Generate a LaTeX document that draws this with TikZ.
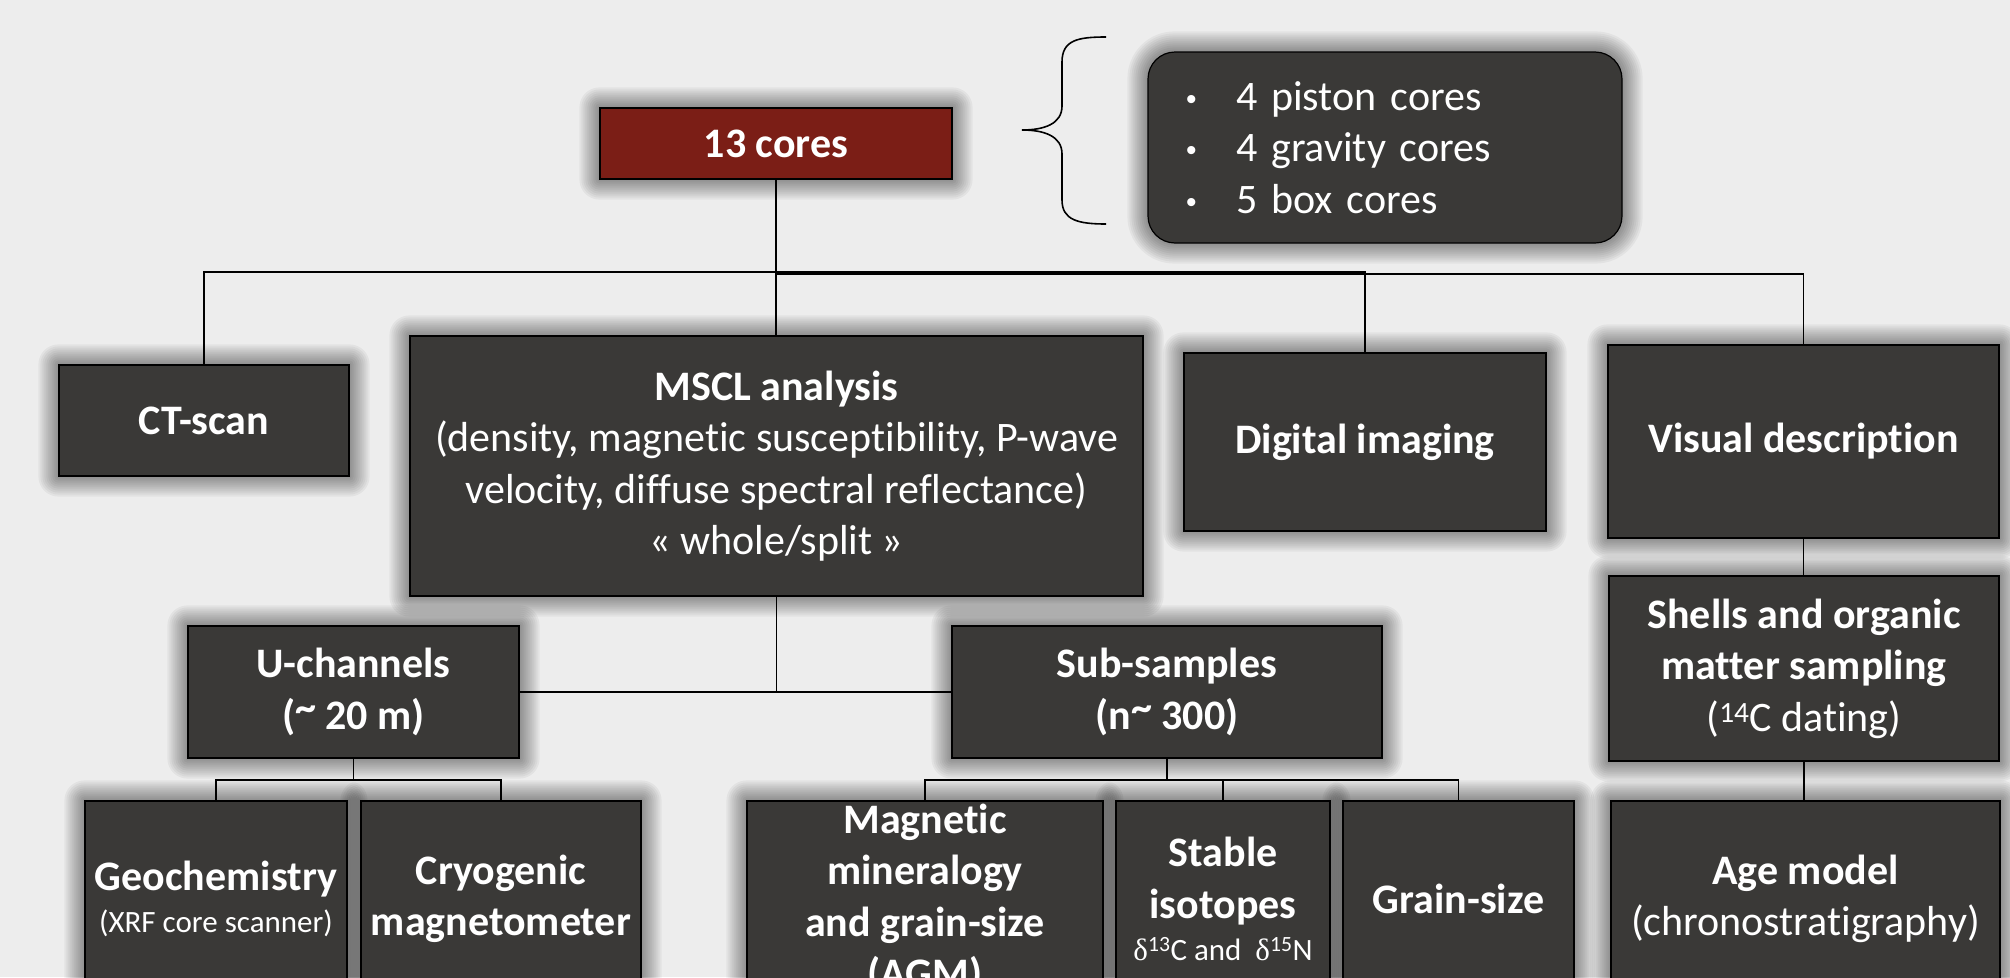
\documentclass[tikz,border=0pt]{standalone}
\usepackage{fontspec}
\setmainfont{Carlito}[Ligatures=NoCommon]
\newfontfamily\greekserif{Liberation Serif}
\newfontfamily\bulletfont{Liberation Sans}
\usetikzlibrary{calc}

\definecolor{paper}{HTML}{EDEDED}
\definecolor{slate}{HTML}{3A3937}
\definecolor{coreRed}{HTML}{7B1E16}

\pgfdeclarelayer{paperlayer}
\pgfdeclarelayer{shadelayer}
\pgfsetlayers{paperlayer,shadelayer,main}

\newcommand\bigtxt{\fontsize{42}{51.5}\selectfont}
\newcommand\smalltxt{\fontsize{31}{37}\selectfont}
\newcommand\bul{\makebox[50pt][l]{\bulletfont\fontsize{30}{30}\selectfont\raisebox{1pt}{•}}}
\newcommand\hightilde{\raisebox{8pt}{\textasciitilde}}

% soft shadow built from stacked translucent rectangles
\newcommand\castshadow[2][0]{%
  \foreach \d in {2,4,...,20}{%
    \pgfmathsetmacro\rr{#1+\d}%
    \fill[black,fill opacity=0.045,rounded corners=\rr pt]
      ([xshift=-\d pt,yshift=\d pt]#2.north west) rectangle
      ([xshift=\d pt,yshift=-\d pt]#2.south east);}}

\tikzset{
  card/.style={draw=black, line width=1.2pt, fill=slate, text=white,
    inner sep=0pt, align=center, font=\bigtxt\bfseries},
  redcard/.style={card, fill=coreRed},
  listcard/.style={draw=black, line width=1.2pt, fill=slate, text=white,
    rounded corners=27pt, inner xsep=38pt, inner ysep=0pt,
    text width=398pt, align=left, font=\bigtxt},
  wire/.style={draw=black, line width=1.3pt},
  bracket/.style={draw=black, line width=1.6pt}
}

\begin{document}
\begin{tikzpicture}[x=1pt,y=-1pt]
\useasboundingbox (0,0) rectangle (2010,977);
\begin{pgfonlayer}{paperlayer}
  \fill[paper] (0,0) rectangle (2010,977);
\end{pgfonlayer}

% top level
\node[redcard, minimum width=352pt, minimum height=71pt] (cores) at (776,143.5) {13 cores};
\node[listcard, minimum height=191pt] (list) at (1385,147.5)
  {\bul 4 piston cores\\
   \bul 4 gravity cores\\
   \bul 5 box cores};

% brace grouping the core types
\draw[bracket] (1106,37) .. controls (1078,37) and (1062,40) .. (1062,62)
  -- (1062,106) .. controls (1062,124) and (1044,130) .. (1022,130)
  .. controls (1044,130) and (1062,136) .. (1062,154)
  -- (1062,200) .. controls (1062,220) and (1078,224) .. (1106,224);

% second level
\node[card, minimum width=290pt, minimum height=111pt] (ct) at (204,420.5) {CT-scan};
\node[card, minimum width=733pt, minimum height=260pt] (mscl) at (776.5,466)
  {MSCL analysis\\
   \textmd{(density, magnetic susceptibility, P-wave}\\
   \textmd{velocity, diffuse spectral reflectance)}\\
   \textmd{« whole/split »}};
\node[card, minimum width=362pt, minimum height=178pt] (digital) at (1365,442) {Digital imaging};
\node[card, minimum width=391pt, minimum height=193pt] (visual) at (1803.5,441.5) {Visual description};

% third level
\node[card, minimum width=331pt, minimum height=132pt] (uch) at (353.5,692) {U-channels\\(\hightilde{} 20 m)};
\node[card, minimum width=430pt, minimum height=132pt] (sub) at (1167,692) {Sub-samples\\(n\hightilde{} 300)};
\node[card, minimum width=390pt, minimum height=185pt] (shells) at (1804,668.5)
  {Shells and organic\\matter sampling\\\textmd{(\textsuperscript{14}C dating)}};

% bottom row
\node[card, minimum width=262pt, minimum height=196pt] (geo) at (216,899)
  {Geochemistry\\[-9pt]\textmd{\smalltxt (XRF core scanner)}};
\node[card, minimum width=280pt, minimum height=196pt] (cryo) at (501,899)
  {Cryogenic\\magnetometer};
\node[card, minimum width=356pt, minimum height=196pt] (magn) at (925,899)
  {Magnetic\\mineralogy\\and grain-size\\(AGM)};
\node[card, minimum width=214pt, minimum height=196pt] (stable) at (1223,899)
  {Stable\\isotopes\\[-9pt]\textmd{\smalltxt{\greekserif δ}\textsuperscript{13}C and~~{\greekserif δ}\textsuperscript{15}N}};
\node[card, minimum width=231pt, minimum height=196pt] (grain) at (1458.5,899) {Grain-size};
\node[card, minimum width=389pt, minimum height=196pt] (age) at (1805.5,899)
  {Age model\\\textmd{(chronostratigraphy)}};

% shadows
\begin{pgfonlayer}{shadelayer}
  \castshadow{cores}
  \castshadow[27]{list}
  \foreach \n in {ct,mscl,digital,visual,uch,sub,shells,geo,cryo,magn,stable,grain,age}
    {\castshadow{\n}}
\end{pgfonlayer}

% connectors
\coordinate (busTop) at (776,272);
\coordinate (busVis) at (776,274);
\draw[wire] (cores.south) -- (busTop) -| (ct.north);
\draw[wire] (busTop) -| (digital.north);
\draw[wire] (busVis) -| (visual.north);
\draw[wire] (cores.south) -- (cores.south |- mscl.north);

\draw[wire] (mscl.south) -- (mscl.south |- uch.east);
\draw[wire] (uch.east) -- (sub.west);

\coordinate (uBus) at (353.5,780);
\draw[wire] (uch.south) -- (uBus) -| (geo.north);
\draw[wire] (uBus) -| (cryo.north);

\coordinate (sBus) at (1167,780);
\draw[wire] (sub.south) -- (sBus) -| (magn.north);
\draw[wire] (sBus) -| (stable.north);
\draw[wire] (sBus) -| (grain.north);

\draw[wire] (visual.south) -- (visual.south |- shells.north);
\draw[wire] (shells.south) -- (shells.south |- age.north);
\end{tikzpicture}
\end{document}
